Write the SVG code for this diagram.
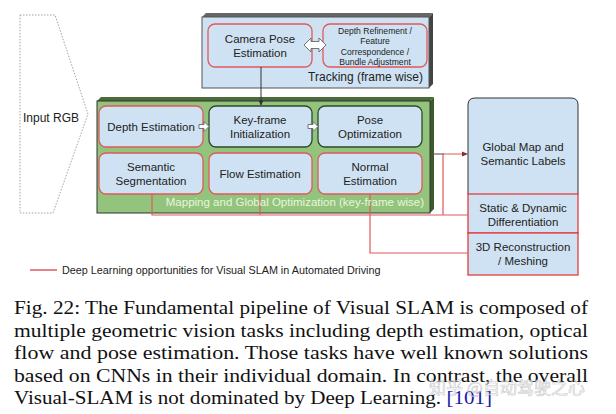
<svg xmlns="http://www.w3.org/2000/svg" width="616" height="414" viewBox="0 0 616 414">
<defs>
<style>
.lbl{font-family:"Liberation Sans",Arial,sans-serif;font-size:11.5px;fill:#222;text-anchor:middle}
.sm{font-family:"Liberation Sans",Arial,sans-serif;font-size:8.6px;fill:#222;text-anchor:middle}
.box{fill:#cfe2f3;stroke-width:1.3}
.red{stroke:#e05a5a}
.dk{stroke:#2f4a2a}
.rl{fill:none;stroke:#e05a5a;stroke-width:1.2}
.blk{fill:#fff;stroke:#666;stroke-width:0.9}
.cap{font-family:"Liberation Serif","Times New Roman",Times,serif;font-size:18.5px;fill:#111}
</style>
<marker id="ah" viewBox="0 0 6 6" refX="5.5" refY="3" markerWidth="5" markerHeight="5" orient="auto">
<path d="M0,0 L6,3 L0,6 z" fill="#333"/>
</marker>
</defs>
<rect width="616" height="414" fill="#fff"/>

<g id="input-rgb">
<polygon points="20,15 55,15 88,114 53,213 20,213" fill="none" stroke="#999" stroke-width="0.9" stroke-dasharray="1.5,1.5"/>
<text class="lbl" x="51" y="122" style="font-size:12px">Input RGB</text>
</g>

<g id="tracking">
<polygon points="202,17 206,13 433,13 429,17" fill="#666"/>
<polygon points="429,17 433,13 433,84 429,88" fill="#444"/>
<rect x="202" y="17" width="227" height="71" fill="#cfe2f3" stroke="#555" stroke-width="1"/>
<text class="lbl" x="423" y="81" style="text-anchor:end;font-size:12px">Tracking (frame wise)</text>
</g>

<g id="camera-pose">
<rect class="box red" x="208" y="24" width="104" height="43" rx="7"/>
<text class="lbl" x="260" y="43">Camera Pose</text>
<text class="lbl" x="260" y="57">Estimation</text>
</g>

<g id="depth-refinement">
<rect class="box red" x="323" y="24" width="104" height="43" rx="7"/>
<text class="sm" x="375" y="34">Depth Refinement /</text>
<text class="sm" x="375" y="44">Feature</text>
<text class="sm" x="375" y="55">Correspondence /</text>
<text class="sm" x="375" y="65">Bundle Adjustment</text>
</g>

<g id="mapping">
<polygon points="97,101 101,97 434,97 430,101" fill="#4d6b3a"/>
<polygon points="430,101 434,97 434,209 430,213" fill="#3c5a2c"/>
<rect x="97" y="101" width="333" height="112" fill="#93c47d" stroke="#333" stroke-width="1"/>
</g>

<g id="depth-estimation">
<rect class="box red" x="99" y="106" width="104" height="41" rx="7"/>
<text class="lbl" x="151" y="131">Depth Estimation</text>
</g>
<g id="keyframe-init">
<rect class="box dk" x="209" y="106" width="103" height="41" rx="7"/>
<text class="lbl" x="260" y="124">Key-frame</text>
<text class="lbl" x="260" y="138">Initialization</text>
</g>
<g id="pose-optimization">
<rect class="box dk" x="318" y="106" width="104" height="41" rx="7"/>
<text class="lbl" x="370" y="124">Pose</text>
<text class="lbl" x="370" y="138">Optimization</text>
</g>
<g id="semantic-segmentation">
<rect class="box red" x="99" y="153" width="104" height="41" rx="7"/>
<text class="lbl" x="151" y="171">Semantic</text>
<text class="lbl" x="151" y="185">Segmentation</text>
</g>
<g id="flow-estimation">
<rect class="box red" x="209" y="153" width="103" height="41" rx="7"/>
<text class="lbl" x="260" y="178">Flow Estimation</text>
</g>
<g id="normal-estimation">
<rect class="box red" x="318" y="153" width="104" height="41" rx="7"/>
<text class="lbl" x="370" y="171">Normal</text>
<text class="lbl" x="370" y="185">Estimation</text>
</g>

<g id="global-map">
<path d="M468,194 V105 Q468,98 475,98 H571 Q578,98 578,105 V194" fill="#cfe2f3" stroke="#333" stroke-width="1"/>
<text class="lbl" x="523" y="151">Global Map and</text>
<text class="lbl" x="523" y="165">Semantic Labels</text>
</g>
<g id="static-dynamic">
<rect x="468" y="194" width="110" height="39" fill="#cfe2f3" stroke="#e03c3c" stroke-width="1.3"/>
<text class="lbl" x="523" y="212">Static &amp; Dynamic</text>
<text class="lbl" x="523" y="226">Differentiation</text>
</g>
<g id="reconstruction">
<rect x="468" y="233" width="110" height="42" fill="#cfe2f3" stroke="#e03c3c" stroke-width="1.3"/>
<text class="lbl" x="523" y="251">3D Reconstruction</text>
<text class="lbl" x="523" y="265">/ Meshing</text>
</g>

<g id="connectors">
<line x1="261" y1="67" x2="261" y2="105" stroke="#333" stroke-width="1" marker-end="url(#ah)"/>
<path class="blk" d="M304,45 l7,-7 v3.5 h8 v-3.5 l7,7 l-7,7 v-3.5 h-8 v3.5 z"/>
<path class="blk" d="M199,124.5 h5 v-3 l5,5 l-5,5 v-3 h-5 z"/>
<path class="blk" d="M308,124.5 h5 v-3 l5,5 l-5,5 v-3 h-5 z"/>
<line x1="433" y1="154" x2="444" y2="154" stroke="#666" stroke-width="1.2"/>
<path class="rl" d="M152,194 V215 H468"/>
<path class="rl" d="M260,194 V215"/>
<path class="rl" d="M443,215 V154 H466"/>
<path d="M462,151.5 L468,154 L462,156.5 z" fill="#8a2a2a"/>
<path class="rl" d="M370,194 V253 H468"/>
</g>

<text x="424" y="206" style="font-family:'Liberation Sans',Arial,sans-serif;font-size:11.5px;fill:#e8f5dc;text-anchor:end">Mapping and Global Optimization (key-frame wise)</text>

<g id="legend">
<line x1="30" y1="270" x2="57" y2="270" stroke="#e05a5a" stroke-width="1.5"/>
<text x="62" y="274" style="font-family:'Liberation Sans',Arial,sans-serif;font-size:10.8px;fill:#222">Deep Learning opportunities for Visual SLAM in Automated Driving</text>
</g>

<g id="caption">
<text class="cap" x="14" y="314" textLength="574" lengthAdjust="spacingAndGlyphs">Fig. 22: The Fundamental pipeline of Visual SLAM is composed of</text>
<text class="cap" x="14" y="337" textLength="574" lengthAdjust="spacingAndGlyphs">multiple geometric vision tasks including depth estimation, optical</text>
<text class="cap" x="14" y="359" textLength="574" lengthAdjust="spacingAndGlyphs">flow and pose estimation. Those tasks have well known solutions</text>
<text class="cap" x="14" y="382" textLength="574" lengthAdjust="spacingAndGlyphs">based on CNNs in their individual domain. In contrast, the overall</text>
<text class="cap" x="14" y="404" textLength="478" lengthAdjust="spacingAndGlyphs">Visual-SLAM is not dominated by Deep Learning. <tspan fill="#1a1aa8">[101]</tspan></text>
</g>
<text x="429" y="394" style="font-family:'Noto Sans CJK SC','Liberation Sans',sans-serif;font-size:17px;fill:#ffffff;fill-opacity:0.5;stroke:#a0a0a0;stroke-width:0.6;stroke-opacity:0.6">知乎 @自动驾驶之心</text>
</svg>
